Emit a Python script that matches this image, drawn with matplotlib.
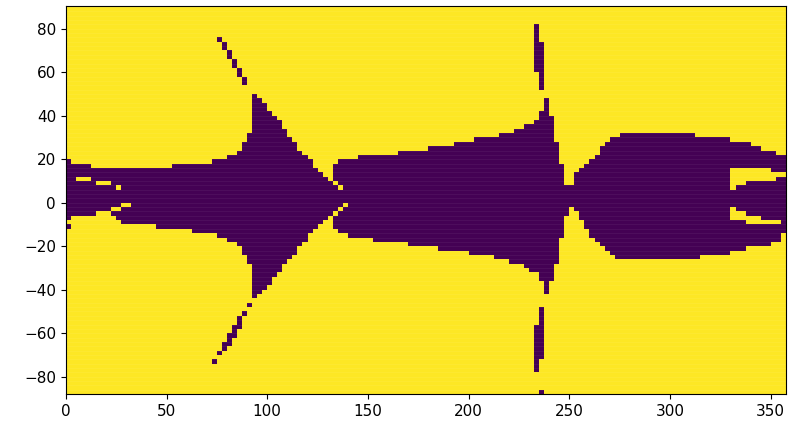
import numpy as np
import matplotlib
matplotlib.use("Agg")
import matplotlib.pyplot as plt

# grid: 2.5 deg in x, 2 deg in y
lon_edges = np.arange(0, 357.5 + 0.1, 2.5)
lat_edges = np.arange(-88, 90 + 0.1, 2)

# upper / lower edge of the main dark band, one value per column
band_top = ([20] + [18] * 4 + [16] * 16 + [18] * 8 + [20] * 3 + [22] * 2 + [24, 28, 32]
            + [50, 48, 46, 42, 40, 38, 34, 30, 28, 24, 22, 20, 16, 14, 12, 10]
            + [18] + [20] * 4 + [22] * 8 + [24] * 6 + [26] * 5 + [28] * 4 + [30] * 5
            + [32] * 3 + [34] * 2 + [36] * 2 + [38, 42, 48, 40, 28, 18]
            + [8] * 2 + [14, 16, 18, 20, 22, 26, 28] + [30] * 2 + [32] * 15 + [30] * 7
            + [28] * 4 + [26] * 2 + [24] * 3 + [22] * 2)
band_bot = ([-8] + [-6] * 5 + [-4] * 3 + [-6, -8] + [-10] * 7 + [-12] * 7 + [-14] * 5
            + [-16] * 2 + [-18] * 2 + [-20, -24, -28]
            + [-44, -42, -40, -38, -34, -32, -28, -26, -24, -20, -18, -14, -12, -10, -8, -6]
            + [-12] + [-14] * 2 + [-16] * 5 + [-18] * 7 + [-20] * 6 + [-22] * 6 + [-24] * 5
            + [-26] * 3 + [-28] * 3 + [-30, -32, -32, -36, -42, -36, -28, -16]
            + [-6, -2, -4, -8, -12, -16, -18, -20, -22, -24] + [-26] * 17 + [-24] * 6
            + [-22] * 3 + [-20] * 5 + [-18] * 2 + [-14])

# yellow gaps inside the band (column, lat low, lat high)
hole_col = [2, 3, 4, 6, 7, 8, 10, 9, 10, 11, 12, 53, 54, 53, 54, 55,
            132, 133, 134, 135, 136, 137, 138, 139, 140, 141, 142,
            132, 133, 134, 135, 136, 137, 138, 139, 140, 141]
hole_lo = [10, 10, 10, 8, 8, 8, 6, -4, -4, -2, -2, 8, 6, -6, -4, -2,
           6, 8, 8, 10, 10, 10, 10, 10, 10, 12, 12,
           -8, -8, -8, -10, -10, -10, -10, -10, -10, -10]
hole_hi = [12, 12, 12, 10, 10, 10, 8, -2, -2, 0, 0, 10, 8, -4, -2, 0,
           16, 16, 16, 16, 16, 16, 16, 16, 14, 14, 14,
           -2, -4, -4, -6, -6, -6, -8, -8, -8, -8]

# dark cells outside the band
extra_col = [0, 30, 31, 32, 33, 34, 35, 29, 30, 31, 32, 33, 34, 35, 36, 93, 94, 93, 94, 94]
extra_lo = [-12, 74, 70, 66, 62, 58, 54, -74, -70, -68, -66, -62, -58, -52, -48, 60, 52, -78, -72, -88]
extra_hi = [-10, 76, 74, 70, 66, 62, 58, -72, -68, -64, -60, -56, -52, -50, -46, 82, 74, -56, -48, -86]

lat_c = (lat_edges[:-1] + lat_edges[1:]) / 2
dark = (lat_c[:, None] < np.array(band_top)[None, :]) & (lat_c[:, None] > np.array(band_bot)[None, :])
for c, lo, hi in zip(hole_col, hole_lo, hole_hi):
    dark[(lat_c > lo) & (lat_c < hi), c] = False
for c, lo, hi in zip(extra_col, extra_lo, extra_hi):
    dark[(lat_c > lo) & (lat_c < hi), c] = True
Z = np.where(dark, 0, 1)

fig = plt.figure(figsize=(7.93, 4.22), dpi=100)
ax = fig.add_axes([0.083, 0.066, 0.908, 0.920])
ax.pcolormesh(lon_edges, lat_edges, Z, cmap='viridis', vmin=0, vmax=1)
# faint row seams like in the original raster
ax.hlines(lat_edges, 0, 357.5, colors='white', alpha=0.07, linewidth=0.5)
ax.set_xlim(0, 357.5)
ax.set_ylim(-88, 90.5)
ax.set_xticks(np.arange(0, 351, 50))
ax.set_yticks(np.arange(-80, 81, 20))
ax.tick_params(labelsize=11)

plt.savefig("out.png", dpi=100)
